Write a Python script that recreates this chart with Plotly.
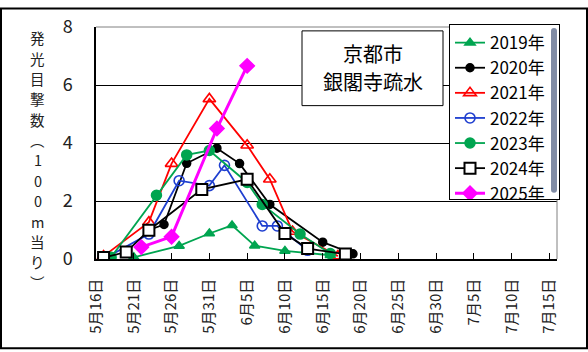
import plotly.graph_objects as go

# ---- data ----
d2019 = ["2025-05-21", "2025-05-27", "2025-05-31", "2025-06-03", "2025-06-06", "2025-06-10", "2025-06-16"]
v2019 = [0.06, 0.45, 0.88, 1.16, 0.46, 0.28, 0.13]

d2020 = ["2025-05-23", "2025-05-25", "2025-05-28", "2025-06-01", "2025-06-04", "2025-06-08", "2025-06-15", "2025-06-19"]
v2020 = [1.0, 1.19, 3.3, 3.82, 3.29, 1.88, 0.58, 0.18]

d2021 = ["2025-05-17", "2025-05-23", "2025-05-26", "2025-05-31", "2025-06-05", "2025-06-08", "2025-06-11", "2025-06-17"]
v2021 = [0.1, 1.27, 3.29, 5.52, 3.92, 2.75, 0.95, 0.1]

d2022 = ["2025-05-17", "2025-05-23", "2025-05-27", "2025-05-31", "2025-06-02", "2025-06-07", "2025-06-09", "2025-06-13"]
v2022 = [0.0, 0.86, 2.7, 2.53, 3.23, 1.14, 1.14, 0.3]

d2023 = ["2025-05-18", "2025-05-24", "2025-05-28", "2025-05-31", "2025-06-05", "2025-06-07", "2025-06-12", "2025-06-16"]
v2023 = [0.06, 2.2, 3.59, 3.74, 2.64, 1.88, 0.86, 0.19]

d2024 = ["2025-05-17", "2025-05-20", "2025-05-23", "2025-05-30", "2025-06-05", "2025-06-10", "2025-06-13", "2025-06-18"]
v2024 = [0.05, 0.24, 0.99, 2.4, 2.75, 0.88, 0.36, 0.17]

d2025 = ["2025-05-22", "2025-05-26", "2025-06-01", "2025-06-05"]
v2025 = [0.41, 0.77, 4.5, 6.66]

x_tickvals = ["2025-05-16", "2025-05-21", "2025-05-26", "2025-05-31", "2025-06-05", "2025-06-10",
              "2025-06-15", "2025-06-20", "2025-06-25", "2025-06-30", "2025-07-05", "2025-07-10", "2025-07-15"]
x_ticktext = ["5月16日", "5月21日", "5月26日", "5月31日", "6月5日", "6月10日",
              "6月15日", "6月20日", "6月25日", "6月30日", "7月5日", "7月10日", "7月15日"]
y_tickvals = [0, 2, 4, 6, 8]
y_title_chars = ["発", "光", "目", "撃", "数", "︵", "1", "0", "0", "m", "当", "り", "︶"]
title_lines = ["京都市", "銀閣寺疏水"]

FONT = "Noto Sans CJK JP"
W, H = 588, 352
L, R, T, B = 96, 31, 20, 93
PW, PH = W - L - R, H - T - B


def px_x(px):
    return (px - L) / PW


def px_y(py):
    return (H - B - py) / PH


fig = go.Figure()


def add(name, xs, ys, color, symbol, size, fill, lw=1.8, mlw=1.5):
    fig.add_trace(go.Scatter(
        x=xs, y=ys, name=name, mode="lines+markers",
        line=dict(color=color, width=lw),
        marker=dict(symbol=symbol, size=size, color=fill, line=dict(color=color, width=mlw)),
    ))


add("2019年", d2019, v2019, "#00A550", "triangle-up", 9, "#00A550")
add("2020年", d2020, v2020, "#000000", "circle", 8, "#000000")
add("2021年", d2021, v2021, "#FF0000", "triangle-up-open", 11, "#FF0000", mlw=1.6)
add("2022年", d2022, v2022, "#1F3FD0", "circle-open", 10, "#1F3FD0", mlw=1.6)
add("2023年", d2023, v2023, "#00A550", "circle", 10, "#00A550")
add("2024年", d2024, v2024, "#000000", "square", 11, "#FFFFFF", mlw=2)
add("2025年", d2025, v2025, "#FF00FF", "diamond", 11, "#FF00FF", lw=3)

# outer border
fig.add_shape(type="rect", xref="paper", yref="paper",
              x0=px_x(1), x1=px_x(W - 1), y0=px_y(H - 1), y1=px_y(1),
              line=dict(color="black", width=2), layer="below")
# top and right plot border (gray)
fig.add_shape(type="line", xref="paper", yref="paper", x0=0, x1=1, y0=1, y1=1,
              line=dict(color="#808080", width=1), layer="above")
fig.add_shape(type="line", xref="paper", yref="paper", x0=1, x1=1, y0=0, y1=1,
              line=dict(color="#808080", width=1), layer="above")

# y title (vertical, stacked characters)
for i, ch in enumerate(y_title_chars):
    fig.add_annotation(xref="paper", yref="paper", x=px_x(38), y=px_y(31 + i * 21),
                       text=ch, showarrow=False,
                       font=dict(family=FONT, size=14.5, color="#222222"),
                       xanchor="center", yanchor="middle")

# title box
fig.add_shape(type="rect", xref="paper", yref="paper",
              x0=px_x(302), x1=px_x(443), y0=px_y(101), y1=px_y(24),
              line=dict(color="black", width=1), fillcolor="white", layer="above")
for i, line in enumerate(title_lines):
    fig.add_annotation(xref="paper", yref="paper", x=px_x(372.5), y=px_y(47.5 + i * 29),
                       text=line, showarrow=False,
                       font=dict(family=FONT, size=20, color="black"),
                       xanchor="center", yanchor="middle")

fig.update_layout(
    width=W, height=H, margin=dict(l=L, r=R, t=T, b=B),
    paper_bgcolor="white", plot_bgcolor="white",
    font=dict(family=FONT, color="black"),
    legend=dict(x=px_x(449), y=px_y(17), xanchor="left", yanchor="top",
                bgcolor="white", bordercolor="black", borderwidth=1,
                font=dict(family=FONT, size=17), itemwidth=30, tracegroupgap=0),
    showlegend=True,
)
fig.update_xaxes(type="date", range=["2025-05-16", "2025-07-16"],
                 tickvals=x_tickvals, ticktext=x_ticktext, tickangle=-90,
                 ticks="inside", ticklen=6, tickcolor="black", tickwidth=1,
                 showline=True, linecolor="black", linewidth=1.5,
                 showgrid=False, zeroline=False,
                 tickfont=dict(family=FONT, size=15, color="#222222"), ticklabelstandoff=12)
fig.update_yaxes(range=[0, 8], tickvals=y_tickvals, ticks="",
                 showline=True, linecolor="black", linewidth=1.5,
                 showgrid=True, gridcolor="black", gridwidth=1, zeroline=False,
                 tickfont=dict(family=FONT, size=18, color="#222222"), ticklabelstandoff=18)

fig.write_html("out.html")
